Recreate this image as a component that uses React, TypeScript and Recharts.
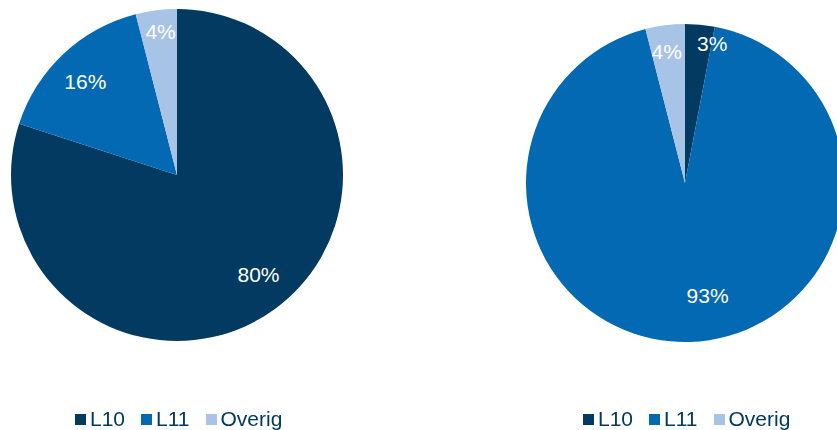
import React from "react";
import { PieChart, Pie, Cell, Legend } from "recharts";

const categories = ["L10", "L11", "Overig"];
const leftValues = [80, 16, 4];
const rightValues = [3, 93, 4];

const colors = ["#023A62", "#0369B3", "#A7C3E5"];
const font = "'Liberation Sans', Arial, sans-serif";

const leftData = categories.map((name, i) => ({ name, value: leftValues[i] }));
const rightData = categories.map((name, i) => ({ name, value: rightValues[i] }));

// label spots as fraction of radius from the centre (Excel "best fit" placement)
const leftLabelPos = [
  [0.491, 0.599],
  [-0.552, -0.564],
  [-0.099, -0.866],
];
const rightLabelPos = [
  [0.171, -0.876],
  [0.142, 0.709],
  [-0.115, -0.829],
];

const makeLabel = (pos: number[][]) => (props: any) => {
  const { cx, cy, outerRadius, index, value } = props;
  const x = cx + outerRadius * pos[index][0];
  const y = cy + outerRadius * pos[index][1];
  return (
    <text
      x={x}
      y={y}
      fill="#ffffff"
      textAnchor="middle"
      dominantBaseline="central"
      fontSize={21}
      fontFamily={font}
    >
      {value}%
    </text>
  );
};

const LegendGroup = ({ left }: { left: number }) => (
  <div
    style={{
      position: "absolute",
      left,
      top: 0,
      display: "flex",
      alignItems: "center",
      fontFamily: font,
      fontSize: 21,
      lineHeight: "24px",
      color: "#023A62",
    }}
  >
    {categories.map((c, i) => (
      <div key={c} style={{ display: "flex", alignItems: "center", marginRight: 16 }}>
        <span
          style={{
            display: "inline-block",
            width: 11,
            height: 11,
            background: colors[i],
            marginRight: 4,
          }}
        />
        <span>{c}</span>
      </div>
    ))}
  </div>
);

const renderLegend = () => (
  <div style={{ position: "relative", width: 837, height: 24 }}>
    <LegendGroup left={75} />
    <LegendGroup left={583} />
  </div>
);

export default function App() {
  return (
    <div style={{ position: "fixed", left: 0, top: 0, width: 837, height: 430, background: "#fff" }}>
      <PieChart width={837} height={430} margin={{ top: 0, right: 0, bottom: 0, left: 0 }}>
        <Pie
          data={leftData}
          dataKey="value"
          nameKey="name"
          cx={177}
          cy={175}
          outerRadius={166}
          startAngle={90}
          endAngle={-270}
          stroke="none"
          labelLine={false}
          label={makeLabel(leftLabelPos)}
          isAnimationActive={false}
        >
          {leftData.map((d, i) => (
            <Cell key={d.name} fill={colors[i]} />
          ))}
        </Pie>
        <Pie
          data={rightData}
          dataKey="value"
          nameKey="name"
          cx={685}
          cy={183}
          outerRadius={159}
          startAngle={90}
          endAngle={-270}
          stroke="none"
          labelLine={false}
          label={makeLabel(rightLabelPos)}
          isAnimationActive={false}
        >
          {rightData.map((d, i) => (
            <Cell key={d.name} fill={colors[i]} />
          ))}
        </Pie>
        <Legend
          content={renderLegend}
          wrapperStyle={{ left: 0, top: 407, width: 837 }}
        />
      </PieChart>
    </div>
  );
}
